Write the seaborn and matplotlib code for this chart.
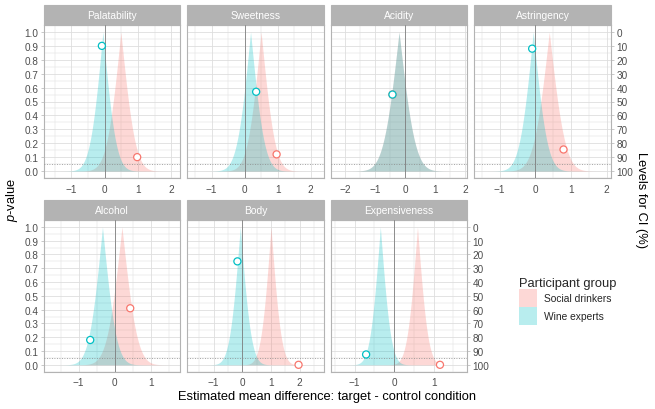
import numpy as np
import pandas as pd
import matplotlib
matplotlib.use("Agg")
import matplotlib.pyplot as plt
import seaborn as sns
from matplotlib.patches import Rectangle, Patch
from matplotlib.ticker import MultipleLocator
from math import erfc, sqrt

# ---------------- data ----------------
attributes = ["Palatability", "Sweetness", "Acidity", "Astringency",
              "Alcohol", "Body", "Expensiveness"]
groups = ["Social drinkers", "Wine experts"]

est_social = [0.49, 0.50, -0.20, 0.39, 0.20, 1.00, 0.59]
se_social = [0.34, 0.33, 0.42, 0.35, 0.33, 0.28, 0.21]
est_expert = [-0.05, 0.18, -0.20, -0.06, -0.34, -0.07, -0.35]
se_expert = [0.31, 0.33, 0.42, 0.31, 0.30, 0.30, 0.21]

# range of mean differences over which each p-value function was evaluated
range_lo = [-1.63, -1.55, -2.28, -1.54, -1.79, -1.70, -1.45]
range_hi = [2.09, 2.21, 1.87, 1.94, 1.65, 2.62, 1.69]

pt_x_social = [0.98, 0.97, -0.42, 0.79, 0.43, 1.96, 1.16]
pt_p_social = [0.10, 0.12, 0.55, 0.155, 0.41, 0.00, 0.00]
pt_x_expert = [-0.08, 0.35, -0.42, -0.09, -0.68, -0.17, -0.71]
pt_p_expert = [0.90, 0.57, 0.55, 0.88, 0.18, 0.75, 0.075]

p_ticks = [0.0, 0.1, 0.2, 0.3, 0.4, 0.5, 0.6, 0.7, 0.8, 0.9, 1.0]
ci_ticks = [0, 10, 20, 30, 40, 50, 60, 70, 80, 90, 100]
alpha_ref = 0.05

colors = {"Social drinkers": "#F8766D", "Wine experts": "#00BFC4"}
fill_alpha = 0.28

# ---------------- build tables ----------------
rows = []
for i, att in enumerate(attributes):
    for g, est, se in (("Social drinkers", est_social[i], se_social[i]),
                       ("Wine experts", est_expert[i], se_expert[i])):
        xs = np.sort(np.append(np.linspace(range_lo[i], range_hi[i], 1201), est))
        ps = np.array([erfc(abs(x - est) / (se * sqrt(2))) for x in xs])
        for x, p in zip(xs, ps):
            rows.append((att, g, x, p))
curves = pd.DataFrame(rows, columns=["attribute", "group", "diff", "p"])

pts = pd.DataFrame({
    "attribute": attributes * 2,
    "group": ["Social drinkers"] * 7 + ["Wine experts"] * 7,
    "diff": pt_x_social + pt_x_expert,
    "p": pt_p_social + pt_p_expert,
})

# ---------------- style ----------------
sns.set_theme(style="white")
plt.rcParams["font.family"] = ["Liberation Sans", "DejaVu Sans"]
plt.rcParams["mathtext.fontset"] = "custom"
plt.rcParams["mathtext.it"] = "Liberation Sans:italic"
plt.rcParams["mathtext.rm"] = "Liberation Sans"

W, H = 655, 410
fig = plt.figure(figsize=(W / 100, H / 100), dpi=100)
fig.patch.set_facecolor("white")

lefts = [44, 187.3, 330.7, 474.3]
pw = 136.4
rows_px = [(26, 179), (221, 372.7)]
strip_h = 20

tick_col = "#4D4D4D"
border_col = "#B3B3B3"
grid_col = "#DEDEDE"
fs_tick = 7.2

for i, att in enumerate(attributes):
    r, c = divmod(i, 4)
    top, bot = rows_px[r]
    ax = fig.add_axes([lefts[c] / W, 1 - bot / H, pw / W, (bot - top) / H])
    ax.set_facecolor("white")

    sub = curves[curves.attribute == att]
    for g in groups:
        d = sub[sub.group == g]
        ax.fill_between(d["diff"], 0, d["p"], color=colors[g], alpha=fill_alpha,
                        linewidth=0, zorder=2)

    ax.axvline(0, color="#7F7F7F", lw=0.6, zorder=3)
    ax.axhline(alpha_ref, color="#8C8C8C", lw=0.6, ls=(0, (1, 2)), zorder=3)

    sns.scatterplot(data=pts[pts.attribute == att], x="diff", y="p", hue="group",
                    hue_order=groups, palette=colors, ax=ax, legend=False,
                    s=26, facecolor="white", linewidth=0.9, zorder=5)
    coll = ax.collections[-1]
    coll.set_edgecolors([colors[g] for g in pts[pts.attribute == att].group])
    coll.set_facecolors("white")

    span = range_hi[i] - range_lo[i]
    ax.set_xlim(range_lo[i] - 0.05 * span, range_hi[i] + 0.05 * span)
    ax.set_ylim(-0.05, 1.05)

    ax.xaxis.set_major_locator(MultipleLocator(1))
    ax.xaxis.set_minor_locator(MultipleLocator(0.5))
    ax.set_yticks(p_ticks)
    ax.yaxis.set_minor_locator(MultipleLocator(0.05))
    ax.grid(which="major", color=grid_col, lw=0.6, zorder=0)
    ax.grid(which="minor", color=grid_col, lw=0.35, zorder=0)
    ax.set_axisbelow(True)

    ax.set_xlabel("")
    ax.set_ylabel("")
    ax.tick_params(axis="both", which="major", length=2.5, width=0.5,
                   color=border_col, labelsize=fs_tick, labelcolor=tick_col, pad=1.5)
    ax.tick_params(axis="both", which="minor", length=0)
    if c == 0:
        ax.tick_params(axis="y", left=True)
        ax.set_yticklabels([f"{t:.1f}" for t in p_ticks])
    else:
        ax.tick_params(axis="y", left=False, labelleft=False)

    for s in ax.spines.values():
        s.set_color(border_col)
        s.set_linewidth(0.8)

    # facet strip
    ax.add_patch(Rectangle((0, 1), 1, strip_h / (bot - top), transform=ax.transAxes,
                           facecolor="#B3B3B3", edgecolor="#B3B3B3", lw=0.8,
                           clip_on=False, zorder=1))
    ax.text(0.5, 1 + (strip_h / 2) / (bot - top), att, transform=ax.transAxes,
            ha="center", va="center", color="white", fontsize=7.4)

    # secondary axis on the rightmost panel of each row
    if att in ("Astringency", "Expensiveness"):
        sec = ax.secondary_yaxis("right",
                                 functions=(lambda p: (1 - p) * 100,
                                            lambda ci: 1 - ci / 100))
        sec.set_yticks(ci_ticks)
        sec.tick_params(length=2.5, width=0.5, color=border_col,
                        labelsize=fs_tick, labelcolor=tick_col, pad=1.5)
        sec.spines["right"].set_visible(False)

# axis titles
fig.text(12 / W, 1 - 200 / H, "$p$-value", rotation=90, ha="center", va="center",
         fontsize=9.3, color="black")
fig.text(641 / W, 1 - 200 / H, "Levels for CI (%)", rotation=270, ha="center",
         va="center", fontsize=9.3, color="black")
fig.text(327 / W, 1 - 397 / H, "Estimated mean difference: target - control condition",
         ha="center", va="center", fontsize=9.3, color="black")

# legend
handles = [Patch(facecolor=colors[g], alpha=fill_alpha, edgecolor="none", label=g)
           for g in groups]
fig.legend(handles=handles, title="Participant group", loc="upper left",
           bbox_to_anchor=(515 / W, 1 - 274 / H), frameon=False,
           fontsize=7.4, title_fontsize=9.3, handlelength=1.75, handleheight=2.3,
           handletextpad=0.65, labelspacing=0.0, alignment="left", borderaxespad=0)

fig.savefig("out.png", dpi=100)
